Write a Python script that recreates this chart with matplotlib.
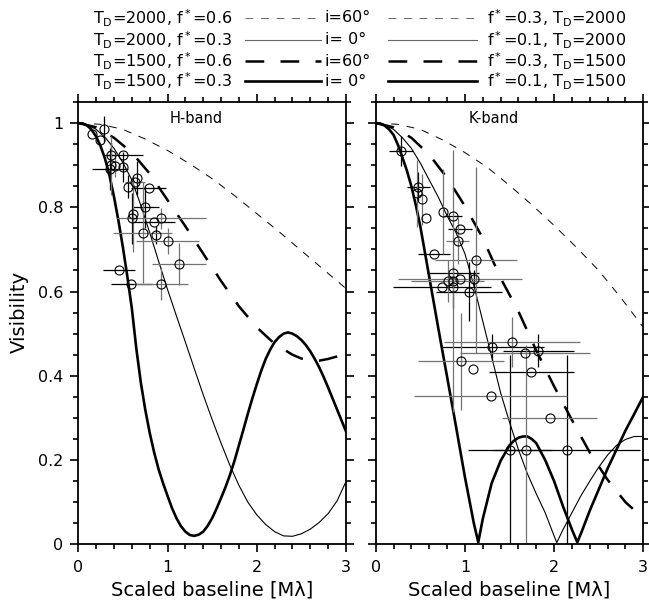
import numpy as np
import matplotlib
matplotlib.use("Agg")
import matplotlib.pyplot as plt
from matplotlib.lines import Line2D
from matplotlib.ticker import MultipleLocator

plt.rcParams['font.family'] = ['DejaVu Sans']
plt.rcParams['mathtext.fontset'] = 'dejavusans'

## model curves, H-band
h_td2000_f06_x = [0, 0.25, 0.5, 0.75, 1.0, 1.25, 1.5, 1.75, 2.0, 2.25, 2.5, 2.75, 3.0]
h_td2000_f06_v = [1.0, 0.997, 0.985, 0.962, 0.935, 0.903, 0.868, 0.828, 0.785, 0.742, 0.697, 0.652, 0.607]

h_td2000_f03_x = [0, 0.1, 0.2, 0.3, 0.4, 0.5, 0.6, 0.7, 0.8, 0.9, 1.0, 1.1, 1.2, 1.3, 1.4, 1.5, 1.6, 1.7,
                  1.8, 1.9, 2.0, 2.1, 2.2, 2.3, 2.4, 2.5, 2.6, 2.7, 2.8, 2.9, 3.0]
h_td2000_f03_v = [1.0, 0.996, 0.985, 0.966, 0.94, 0.906, 0.865, 0.805, 0.74, 0.672, 0.605, 0.542, 0.48, 0.417,
                  0.355, 0.296, 0.24, 0.187, 0.14, 0.1, 0.07, 0.047, 0.03, 0.02, 0.019, 0.025, 0.036, 0.052,
                  0.073, 0.103, 0.149]

h_td1500_f06_x = [0, 0.2, 0.4, 0.6, 0.8, 1.0, 1.2, 1.4, 1.6, 1.8, 2.0, 2.2, 2.4, 2.5, 2.6, 2.7, 2.8, 2.9, 3.0]
h_td1500_f06_v = [1.0, 0.99, 0.965, 0.93, 0.88, 0.817, 0.755, 0.69, 0.625, 0.565, 0.515, 0.476, 0.45, 0.441,
                  0.437, 0.436, 0.44, 0.446, 0.455]

h_td1500_f03_x = [0, 0.05, 0.1, 0.15, 0.2, 0.25, 0.3, 0.35, 0.4, 0.45, 0.5, 0.55, 0.6, 0.65, 0.7, 0.75,
                  0.8, 0.85, 0.9, 0.95, 1.0, 1.05, 1.1, 1.15, 1.2, 1.25, 1.3, 1.35, 1.4, 1.45, 1.5, 1.55,
                  1.6, 1.65, 1.7, 1.75, 1.8, 1.85, 1.9, 1.95, 2.0, 2.05, 2.1, 2.15, 2.2, 2.25, 2.3, 2.35,
                  2.4, 2.45, 2.5, 2.55, 2.6, 2.65, 2.7, 2.75, 2.8, 2.85, 2.9, 2.95, 3.0]
h_td1500_f03_v = [1.0, 0.999, 0.994, 0.984, 0.968, 0.945, 0.915, 0.875, 0.825, 0.768, 0.705, 0.635, 0.56, 0.465,
                  0.385, 0.32, 0.265, 0.218, 0.178, 0.145, 0.115, 0.086, 0.062, 0.043, 0.03, 0.022, 0.02, 0.023,
                  0.03, 0.044, 0.062, 0.085, 0.11, 0.136, 0.165, 0.198, 0.235, 0.272, 0.31, 0.346, 0.38, 0.412,
                  0.44, 0.462, 0.48, 0.492, 0.5, 0.503, 0.5, 0.494, 0.485, 0.473, 0.458, 0.44, 0.42, 0.397,
                  0.372, 0.346, 0.32, 0.294, 0.268]

## model curves, K-band
k_td2000_f03_x = [0, 0.25, 0.5, 0.75, 1.0, 1.25, 1.5, 1.75, 2.0, 2.25, 2.5, 2.75, 3.0]
k_td2000_f03_v = [1.0, 0.997, 0.985, 0.96, 0.93, 0.895, 0.852, 0.806, 0.757, 0.705, 0.65, 0.585, 0.515]

k_td2000_f01_x = [0, 0.1, 0.2, 0.3, 0.4, 0.5, 0.6, 0.7, 0.8, 0.9, 1.0, 1.1, 1.2, 1.3, 1.4, 1.5, 1.6, 1.7,
                  1.8, 1.9, 2.0, 2.03, 2.1, 2.2, 2.3, 2.4, 2.5, 2.6, 2.7, 2.8, 2.9, 3.0]
k_td2000_f01_v = [1.0, 0.996, 0.985, 0.965, 0.94, 0.905, 0.865, 0.825, 0.78, 0.74, 0.69, 0.615, 0.53, 0.445,
                  0.36, 0.29, 0.225, 0.168, 0.12, 0.075, 0.02, 0.004, 0.035, 0.075, 0.115, 0.15, 0.183, 0.212,
                  0.235, 0.249, 0.256, 0.256]

k_td1500_f03_x = [0, 0.2, 0.4, 0.6, 0.8, 1.0, 1.2, 1.4, 1.6, 1.8, 2.0, 2.2, 2.4, 2.6, 2.8, 3.0]
k_td1500_f03_v = [1.0, 0.99, 0.965, 0.925, 0.87, 0.803, 0.727, 0.632, 0.553, 0.46, 0.375, 0.295, 0.218, 0.153, 0.1, 0.062]

k_td1500_f01_x = [0, 0.05, 0.1, 0.15, 0.2, 0.25, 0.3, 0.35, 0.4, 0.45, 0.5, 0.6, 0.7, 0.8, 0.9, 1.0, 1.1, 1.15,
                  1.2, 1.3, 1.4, 1.5, 1.55, 1.6, 1.65, 1.7, 1.75, 1.8, 1.9, 2.0, 2.1, 2.2, 2.26, 2.3, 2.4,
                  2.5, 2.6, 2.7, 2.8, 2.9, 3.0]
k_td1500_f01_v = [1.0, 0.999, 0.994, 0.985, 0.972, 0.948, 0.918, 0.887, 0.85, 0.805, 0.755, 0.635, 0.515, 0.398,
                  0.28, 0.16, 0.05, 0.005, 0.06, 0.145, 0.198, 0.235, 0.246, 0.253, 0.256, 0.256, 0.25, 0.24,
                  0.2, 0.15, 0.09, 0.035, 0.005, 0.025, 0.08, 0.13, 0.18, 0.225, 0.27, 0.31, 0.351]

## measurements, H-band (two sets)
h1_x = [0.157, 0.244, 0.292, 0.367, 0.357, 0.506, 0.506, 0.555, 0.656, 0.787, 0.749, 0.600, 0.843, 0.873, 0.457, 0.592]
h1_v = [0.975, 0.960, 0.986, 0.924, 0.890, 0.924, 0.896, 0.849, 0.869, 0.845, 0.800, 0.774, 0.765, 0.734, 0.650, 0.619]
h1_xerr = [0, 0, 0, 0.06, 0.2, 0.215, 0, 0, 0, 0.2, 0.15, 0, 0.24, 0, 0.18, 0.23]
h1_verr = [0, 0, 0.031, 0.03, 0.05, 0, 0.035, 0.028, 0.04, 0, 0.05, 0.06, 0, 0.022, 0, 0]

h2_x = [0.367, 0.412, 0.637, 0.618, 0.929, 0.724, 1.0, 1.131, 0.929]
h2_v = [0.900, 0.898, 0.859, 0.785, 0.774, 0.740, 0.720, 0.665, 0.619]
h2_xerr = [0, 0, 0.11, 0, 0.5, 0.33, 0.35, 0.3, 0.3]
h2_verr = [0.07, 0.025, 0, 0.09, 0.025, 0.12, 0.03, 0.05, 0.04]

## measurements, K-band (two sets)
k1_x = [0.284, 0.478, 0.564, 0.863, 0.945, 0.654, 0.870, 1.105, 0.747, 0.870, 1.05,
        1.307, 1.823, 1.745, 1.502, 2.148]
k1_v = [0.934, 0.849, 0.774, 0.779, 0.749, 0.688, 0.643, 0.630, 0.611, 0.611, 0.600,
        0.468, 0.460, 0.409, 0.224, 0.224]
k1_xerr = [0.13, 0.13, 0, 0.1, 0.13, 0.18, 0.29, 0, 0.55, 0, 0.37,
           0.58, 0.4, 0.475, 0.47, 0.82]
k1_verr = [0.036, 0.035, 0, 0, 0, 0, 0, 0.02, 0, 0.05, 0.07,
           0.032, 0.04, 0, 0.225, 0.225]

k2_x = [0.459, 0.523, 0.751, 0.919, 1.121, 0.807, 0.945, 0.870,
        1.528, 1.670, 0.956, 1.091, 1.289, 1.951, 1.682]
k2_v = [0.833, 0.819, 0.790, 0.720, 0.675, 0.625, 0.630, 0.625,
        0.480, 0.454, 0.434, 0.417, 0.353, 0.299, 0.224]
k2_xerr = [0, 0, 0, 0.13, 0.46, 0.41, 0.7, 0,
           0.76, 0.73, 0.48, 0, 0.86, 0.53, 0]
k2_verr = [0.08, 0.06, 0.1, 0.055, 0.22, 0.05, 0, 0.31,
           0.06, 0, 0.115, 0, 0, 0, 0.25]

legend_left = [r'T$_{\rm D}$=2000, f$^*$=0.6', r'T$_{\rm D}$=2000, f$^*$=0.3',
               r'T$_{\rm D}$=1500, f$^*$=0.6', r'T$_{\rm D}$=1500, f$^*$=0.3']
legend_mid = ['i=60°', 'i= 0°', 'i=60°', 'i= 0°']
legend_right = [r'f$^*$=0.3, T$_{\rm D}$=2000', r'f$^*$=0.1, T$_{\rm D}$=2000',
                r'f$^*$=0.3, T$_{\rm D}$=1500', r'f$^*$=0.1, T$_{\rm D}$=1500']

## styles
thin_dash = dict(color='k', lw=0.7, dashes=(8, 8))
thin = dict(color='k', lw=0.8)
thick_dash = dict(color='k', lw=1.8, dashes=(7.5, 6.5))
thick = dict(color='k', lw=1.9)
styles = [thin_dash, thin, thick_dash, thick]
legend_colors = ['0.4', '0.4', 'k', 'k']

W, H = 649, 608
fig = plt.figure(figsize=(W / 100, H / 100), dpi=100)

def frac(x0, y0, x1, y1):
    return [x0 / W, 1 - y1 / H, (x1 - x0) / W, (y1 - y0) / H]

axH = fig.add_axes(frac(78.3, 102, 346, 544.3))
axK = fig.add_axes(frac(375.7, 102, 643.3, 544.3))


def panel(ax, curves, sets, name, show_ylab):
    for (cx, cv), st in zip(curves, styles):
        ax.plot(cx, cv, **st)
    for (sx, sv, sxe, sve), col in zip(sets, ['k', '0.45']):
        ax.errorbar(sx, sv, xerr=sxe, yerr=sve, fmt='o', ms=6.5, mfc='none', mec='k', mew=0.8,
                    ecolor=col, elinewidth=0.9, capsize=0)
    ax.set_xlim(0, 3)
    ax.set_ylim(0, 1.05)
    ax.xaxis.set_major_locator(MultipleLocator(1))
    ax.xaxis.set_minor_locator(MultipleLocator(0.2))
    ax.yaxis.set_minor_locator(MultipleLocator(0.05))
    ax.set_yticks([0, 0.2, 0.4, 0.6, 0.8, 1.0])
    ax.set_yticklabels(['0', '0.2', '0.4', '0.6', '0.8', '1'])
    ax.tick_params(which='both', direction='out', top=True, right=True, width=1.2,
                   labelsize=11.5, labelleft=show_ylab, pad=5)
    ax.tick_params(which='major', length=6)
    ax.tick_params(which='minor', length=3.3)
    for s in ax.spines.values():
        s.set_linewidth(1.3)
    ax.set_xlabel('Scaled baseline [Mλ]', fontsize=14, labelpad=4)
    ax.text(1.32, 1.01, name, ha='center', va='center', fontsize=10.5)


panel(axH,
      [(h_td2000_f06_x, h_td2000_f06_v), (h_td2000_f03_x, h_td2000_f03_v),
       (h_td1500_f06_x, h_td1500_f06_v), (h_td1500_f03_x, h_td1500_f03_v)],
      [(h1_x, h1_v, h1_xerr, h1_verr), (h2_x, h2_v, h2_xerr, h2_verr)],
      'H-band', True)
panel(axK,
      [(k_td2000_f03_x, k_td2000_f03_v), (k_td2000_f01_x, k_td2000_f01_v),
       (k_td1500_f03_x, k_td1500_f03_v), (k_td1500_f01_x, k_td1500_f01_v)],
      [(k1_x, k1_v, k1_xerr, k1_verr), (k2_x, k2_v, k2_xerr, k2_verr)],
      'K-band', False)

fig.text(19 / W, 1 - 312 / H, 'Visibility', rotation=90, ha='center', va='center', fontsize=14)

## legend block at top
row_y = [18, 40, 61, 81]
for i in range(4):
    yf = 1 - row_y[i] / H
    st = dict(styles[i], color=legend_colors[i])
    fig.text(232 / W, yf, legend_left[i], ha='right', va='center', fontsize=11.5)
    fig.add_artist(Line2D([245 / W, 321 / W], [yf, yf], **st))
    fig.text(325 / W, yf, legend_mid[i], ha='left', va='center', fontsize=11.5)
    fig.add_artist(Line2D([388 / W, 477 / W], [yf, yf], **st))
    fig.text(487 / W, yf, legend_right[i], ha='left', va='center', fontsize=11.5)

fig.savefig('out.png', dpi=100)
